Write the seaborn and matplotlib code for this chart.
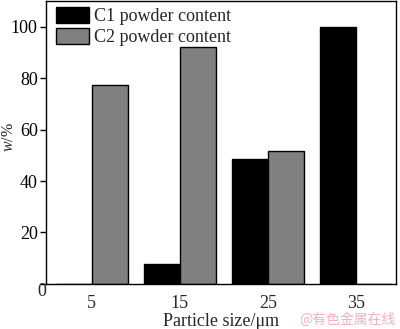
import matplotlib
matplotlib.use("Agg")
import matplotlib.pyplot as plt
import seaborn as sns
import pandas as pd

sizes = ["5", "15", "25", "35"]
c1_content = [0, 7.8, 48.4, 100]
c2_content = [77.5, 92.2, 51.6, 0]
series_names = ["C1 powder content", "C2 powder content"]
y_ticks = [0, 20, 40, 60, 80, 100]

df = pd.DataFrame({
    "size": sizes * 2,
    "value": c1_content + c2_content,
    "series": [series_names[0]] * 4 + [series_names[1]] * 4,
})

sns.set_style("ticks")
plt.rcParams["font.family"] = ["Liberation Serif", "DejaVu Serif"]
plt.rcParams["mathtext.fontset"] = "custom"
plt.rcParams["mathtext.rm"] = "Liberation Serif"
plt.rcParams["mathtext.it"] = "Liberation Serif:italic"

fig = plt.figure(figsize=(4.0, 3.29), dpi=100)
ax = fig.add_axes([0.115, 0.137, 0.875, 0.860])

sns.barplot(data=df, x="size", y="value", hue="series", order=sizes,
            hue_order=series_names, palette=["#000000", "#808080"],
            width=0.82, edgecolor="black", linewidth=1.0, saturation=1,
            ax=ax)

ax.set_xlim(-0.52, 3.455)
ax.set_ylim(0, 110)
ax.set_yticks(y_ticks)
# the zero label sits at the corner, slightly below the axis
ax.set_yticklabels([""] + [str(v) for v in y_ticks[1:]])
ax.annotate("0", xy=(0, 0), xycoords=ax.get_yaxis_transform(),
            xytext=(0, -8), textcoords="offset pixels",
            ha="right", va="center", fontsize=13)
ax.tick_params(axis="y", direction="out", length=4, width=1, pad=2,
               labelsize=13, colors="black")
ax.tick_params(axis="x", length=0, labelsize=13, pad=8)
for s in ax.spines.values():
    s.set_visible(True)
    s.set_color("black")
    s.set_linewidth(1.0)

ax.set_xlabel("Particle size/μm", fontsize=13, labelpad=1)
ax.set_ylabel(r"$\it{w}$/%", fontsize=11.5)
ax.yaxis.set_label_coords(-0.083, 0.52)

ax.legend(loc="upper left", bbox_to_anchor=(0.012, 1.0), frameon=False,
          fontsize=13, handlelength=1.85, handleheight=1.0,
          handletextpad=0.25, labelspacing=0.15, borderaxespad=0.12,
          borderpad=0.2)

fig.text(0.988, 0.008, "@有色金属在线", fontsize=10, color="#f2b3bb",
         ha="right", va="bottom", family=["Noto Sans CJK SC", "DejaVu Sans"])

fig.savefig("out.png", dpi=100)
